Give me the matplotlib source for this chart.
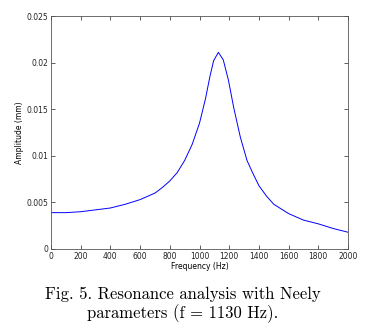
import numpy as np
import matplotlib.pyplot as plt

# values
freq = [0, 100, 200, 300, 400, 500, 600, 700, 750, 800, 850, 900, 950, 1000,
        1040, 1070, 1095, 1127, 1160, 1195, 1230, 1275, 1320, 1360, 1400, 1450,
        1500, 1600, 1700, 1800, 1900, 2000]
amp = [0.0039, 0.0039, 0.0040, 0.0042, 0.0044, 0.0048, 0.0053, 0.0060, 0.0066,
       0.0073, 0.0082, 0.0095, 0.0112, 0.0135, 0.0161, 0.0185, 0.0202, 0.0211,
       0.0203, 0.0181, 0.0152, 0.0120, 0.0095, 0.0081, 0.0068, 0.0057, 0.0048,
       0.0038, 0.0031, 0.0027, 0.0022, 0.0018]
xticks = np.arange(0, 2001, 200)
yticks = [0, 0.005, 0.01, 0.015, 0.02, 0.025]
ytick_labels = ["0", "0.005", "0.01", "0.015", "0.02", "0.025"]
caption = "Fig. 5. Resonance analysis with Neely\nparameters (f = 1130 Hz)."

fig = plt.figure(figsize=(3.66, 3.31), dpi=100)
ax = fig.add_axes([51/366, 82/331, 297/366, 233/331])
ax.plot(freq, amp, color='#0000ff', linewidth=0.7)
ax.set_xlim(0, 2000)
ax.set_ylim(0, 0.025)
ax.set_xticks(xticks)
ax.set_yticks(yticks)
ax.set_yticklabels(ytick_labels)
ax.tick_params(direction='in', top=True, right=True, labelsize=5.5,
               length=3, width=0.6, colors='#444444', labelcolor='#222222', pad=2)
for s in ax.spines.values():
    s.set_color('#555555')
    s.set_linewidth(0.6)
ax.set_xlabel("Frequency (Hz)", fontsize=5.5, labelpad=1)
ax.set_ylabel("Amplitude (mm)", fontsize=5.5, labelpad=2)

fig.text(0.5, 0.08, caption, ha='center', va='center', fontsize=12,
         family='cmr10', linespacing=1.15)

fig.savefig("out.png", dpi=100)
